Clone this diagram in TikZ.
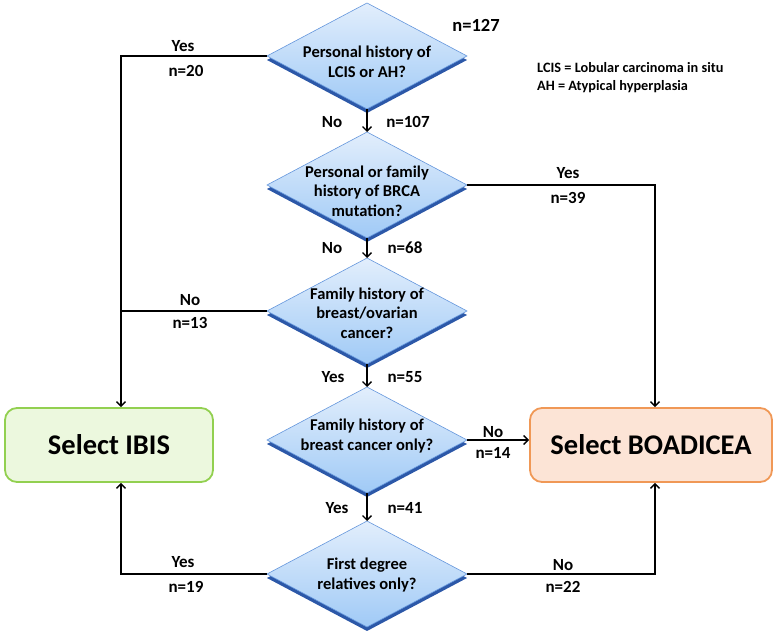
\documentclass[tikz,border=0pt]{standalone}
\usepackage{fontspec}
\setmainfont{Carlito}
\usetikzlibrary{arrows.meta,shapes.geometric,calc}
\definecolor{dshadow}{RGB}{44,88,168}
\definecolor{diaedge}{RGB}{100,150,220}
\definecolor{diatop}{RGB}{226,238,252}
\definecolor{diabot}{RGB}{160,202,246}
\definecolor{ibisedge}{RGB}{146,208,80}
\definecolor{ibisfill}{RGB}{236,248,222}
\definecolor{boaedge}{RGB}{240,152,86}
\definecolor{boafill}{RGB}{252,228,214}
\tikzset{
  dia/.style={diamond, minimum width=200pt, minimum height=106pt, inner sep=0pt, outer sep=0pt,
    draw=diaedge, line width=0.6pt, top color=diatop, bottom color=diabot},
  diash/.style={diamond, minimum width=200pt, minimum height=106pt, inner sep=0pt, outer sep=0pt,
    fill=dshadow},
  dtext/.style={font=\bfseries\fontsize{16.5}{19.5}\selectfont, align=center, inner sep=0pt},
  lab/.style={font=\bfseries\fontsize{17}{18}\selectfont, inner sep=0pt},
  arr/.style={line width=1.4pt, -{Straight Barb[length=4.5pt,width=9pt]}},
  ln/.style={line width=1.4pt},
  selbox/.style={rounded corners=12pt, line width=1.8pt, minimum height=74pt,
    font=\bfseries\fontsize{28.5}{30}\selectfont, inner sep=0pt},
}
\begin{document}
\begin{tikzpicture}[x=1pt,y=-1pt]
\useasboundingbox (0,0) rectangle (777,631);

% shadows
\node[diash] (s1) at (367,60) {};
\node[diash] (s2) at (367,189) {};
\node[diash] (s3) at (367,315) {};
\node[diash] (s4) at (367,444) {};
\node[diash] (s5) at (367,578) {};
% diamonds
\node[dia] (d1) at (367,56) {};
\node[dia] (d2) at (367,185) {};
\node[dia] (d3) at (367,311) {};
\node[dia] (d4) at (367,440) {};
\node[dia] (d5) at (367,574) {};
% diamond texts
\node[dtext] (t1) at (367,62) {Personal history of\\LCIS or AH?};
\node[dtext] (t2) at (367,191) {Personal or family\\history of BRCA\\mutation?};
\node[dtext] (t3) at (367,313) {Family history of\\breast/ovarian\\cancer?};
\node[dtext] (t4) at (367,436) {Family history of\\breast cancer only?};
\node[dtext] (t5) at (367,575) {First degree\\relatives only?};

% boxes
\node[selbox, draw=ibisedge, fill=ibisfill, minimum width=208pt] (ibis) at (109,445) {Select IBIS};
\node[selbox, draw=boaedge, fill=boafill, minimum width=242pt] (boa) at (651,445) {Select BOADICEA};

% coordinates for elbows
\coordinate (cl) at (121,0);
\coordinate (cr) at (655,0);

% connectors
\draw[arr] (d1.west) -- (d1.west -| cl) -- (ibis.north -| cl);
\draw[ln] (d3.west) -- (d3.west -| cl);
\draw[arr] (d5.west) -- (d5.west -| cl) -- (ibis.south -| cl);
\draw[arr] (d2.east) -- (d2.east -| cr) -- (boa.north -| cr);
\draw[arr] (d4.east) -- (d4.east -| boa.west);
\draw[arr] (d5.east) -- (d5.east -| cr) -- (boa.south -| cr);
\draw[arr] (d1.south) -- (d2.north);
\draw[arr] (d2.south) -- (d3.north);
\draw[arr] (d3.south) -- (d4.north);
\draw[arr] (d4.south) -- (d5.north);

% labels
\node[font=\bfseries\fontsize{18.5}{20}\selectfont, inner sep=0pt] (n127) at (476,25) {n=127};
\node[font=\bfseries\fontsize{14.3}{18}\selectfont, align=left, inner sep=0pt, anchor=west] (legend) at (537,78)
  {LCIS = Lobular carcinoma in situ\\AH = Atypical hyperplasia};
\node[lab] (y1) at (183,46) {Yes};
\node[lab] (n20) at (186,71) {n=20};
\node[lab] (no1) at (332,122) {No};
\node[lab] (n107) at (408,122) {n=107};
\node[lab] (y2) at (568,173) {Yes};
\node[lab] (n39) at (568,198) {n=39};
\node[lab] (no2) at (332,248) {No};
\node[lab] (n68) at (405,248) {n=68};
\node[lab] (no3) at (190,300) {No};
\node[lab] (n13) at (190,323) {n=13};
\node[lab] (y3) at (333,377) {Yes};
\node[lab] (n55) at (405,377) {n=55};
\node[lab] (no4) at (493,432) {No};
\node[lab] (n14) at (493,453) {n=14};
\node[lab] (y4) at (337,508) {Yes};
\node[lab] (n41) at (405,508) {n=41};
\node[lab] (y5) at (183,562) {Yes};
\node[lab] (n19) at (186,587) {n=19};
\node[lab] (no5) at (563,565) {No};
\node[lab] (n22) at (563,587) {n=22};
\end{tikzpicture}
\end{document}
